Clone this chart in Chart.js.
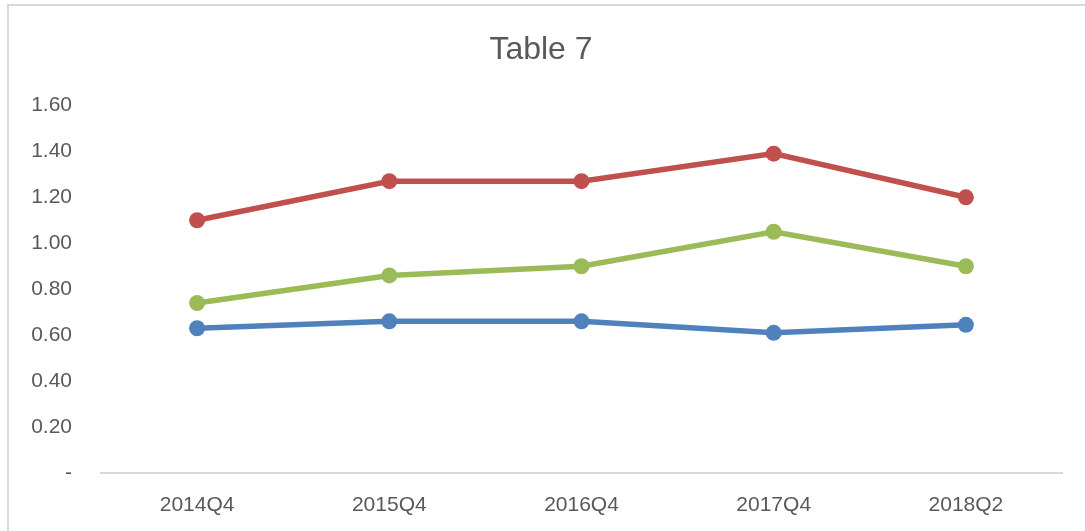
<!DOCTYPE html>
<html>
<head>
<meta charset="utf-8">
<script src="https://cdn.jsdelivr.net/npm/chart.js@4"></script>
<style>
  html, body { margin: 0; padding: 0; background: #fff; }
  #wrap { position: relative; width: 1085px; height: 531px; }
  #frame {
    position: absolute; left: 7px; top: 4px; right: -2px; bottom: -4px;
    border: 2px solid #d9d9d9; pointer-events: none;
  }
</style>
</head>
<body>
<div id="wrap">
  <canvas id="chart" width="1085" height="531"></canvas>
  <div id="frame"></div>
</div>
<script>
// Chart data
const quarters = ['2014Q4', '2015Q4', '2016Q4', '2017Q4', '2018Q2'];
const redSeries = [1.10, 1.27, 1.27, 1.39, 1.20];
const greenSeries = [0.74, 0.86, 0.90, 1.05, 0.90];
const blueSeries = [0.63, 0.66, 0.66, 0.61, 0.645];
const yTicks = [0, 0.2, 0.4, 0.6, 0.8, 1.0, 1.2, 1.4, 1.6];

const textColor = '#595959';
const fontFamily = '"Liberation Sans", Arial, sans-serif';

function series(values, color) {
  return {
    data: values,
    borderColor: color,
    backgroundColor: color,
    borderWidth: 5.5,
    pointRadius: 8,
    pointHoverRadius: 8,
    pointBorderWidth: 0,
    tension: 0
  };
}

const ctx = document.getElementById('chart').getContext('2d');
new Chart(ctx, {
  type: 'line',
  data: {
    labels: quarters,
    datasets: [
      series(redSeries, '#C0504D'),
      series(greenSeries, '#9BBB59'),
      series(blueSeries, '#4F81BD')
    ]
  },
  options: {
    responsive: false,
    animation: false,
    layout: { padding: { left: 20, right: 23, top: 0, bottom: 0 } },
    plugins: {
      legend: { display: false },
      tooltip: { enabled: false },
      title: {
        display: true,
        text: 'Table 7',
        color: textColor,
        font: { family: fontFamily, size: 32, weight: 'normal' },
        padding: { top: 31, bottom: 36 }
      }
    },
    scales: {
      x: {
        offset: true,
        afterFit: axis => { axis.height = 58; },
        grid: { display: false },
        border: { display: true, color: '#d9d9d9', width: 2 },
        ticks: {
          color: textColor,
          padding: 12,
          maxRotation: 0,
          font: { family: fontFamily, size: 21 }
        }
      },
      y: {
        min: 0,
        max: 1.6,
        afterFit: axis => { axis.width = 81; },
        afterBuildTicks: axis => { axis.ticks = yTicks.map(v => ({ value: v })); },
        grid: { display: false },
        border: { display: false },
        ticks: {
          color: textColor,
          padding: 21,
          font: { family: fontFamily, size: 21 },
          callback: v => (v === 0 ? '-' : Number(v).toFixed(2))
        }
      }
    }
  }
});
</script>
</body>
</html>
